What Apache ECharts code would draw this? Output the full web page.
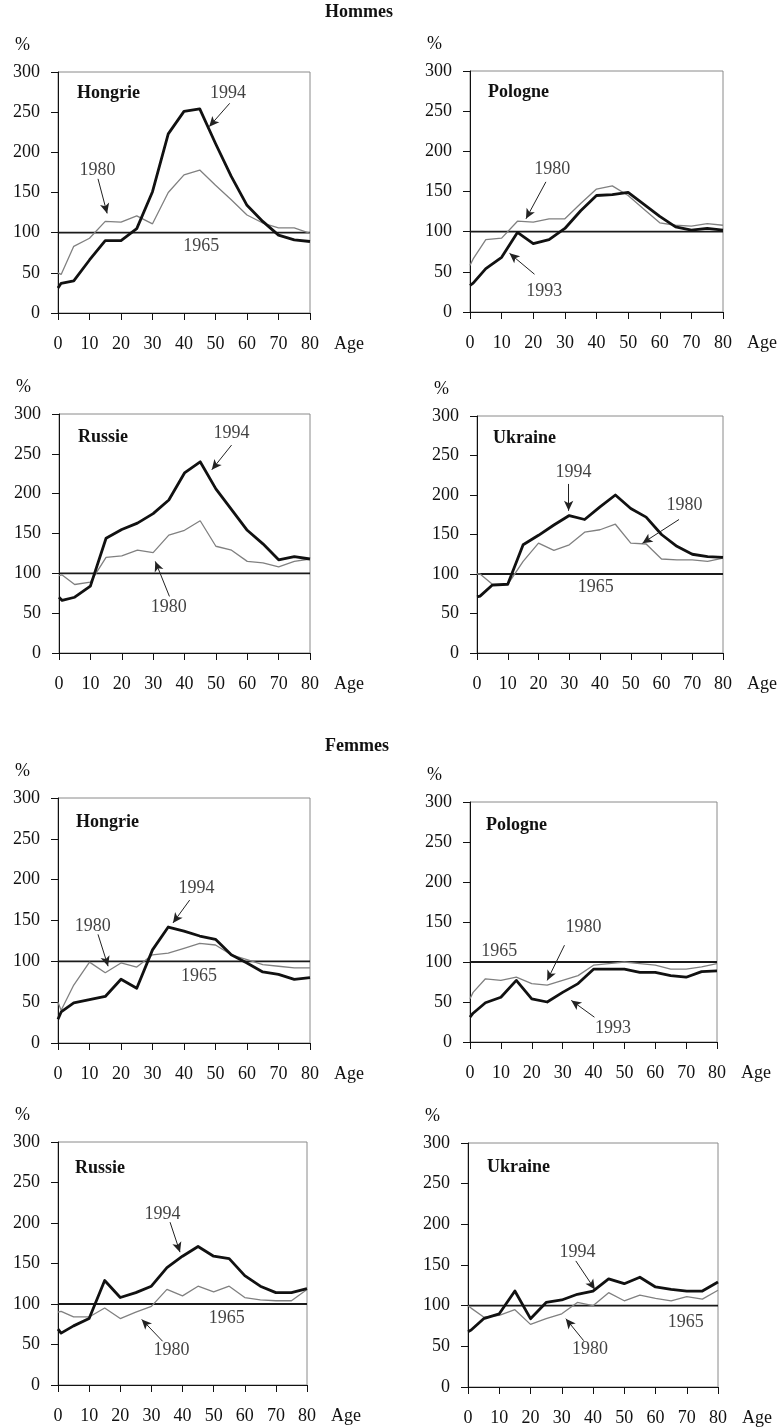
<!DOCTYPE html>
<html>
<head>
<meta charset="utf-8">
<script src="https://cdn.jsdelivr.net/npm/echarts@6/dist/echarts.min.js"></script>
<style>
html,body{margin:0;padding:0;background:#fff;}
#chart{width:782px;height:1427px;}
</style>
</head>
<body>
<div id="chart"></div>
<script>
// ---- data ----
const ages = [0,1,5,10,15,20,25,30,35,40,45,50,55,60,65,70,75,80];
const ref1965Ages = [0,80];
const ref1965 = [100,100];
const xTicks = [0,10,20,30,40,50,60,70,80];
const yTicks = [0,50,100,150,200,250,300];

// Hommes
const huM1994 = [31,37,40,66,90,90,105,151,223,251,254,211,170,134,114,97,91,89];
const huM1980 = [50,48,83,93,114,113,121,111,150,172,178,159,141,122,112,106,106,99];
const plM1993 = [33,36,54,68,99,85,90,104,126,145,146,149,134,119,106,102,104,102];
const plM1980 = [58,66,90,92,113,112,116,116,135,153,157,145,128,111,108,107,110,108];
const ruM1994 = [70,66,70,84,144,155,163,175,192,226,240,206,180,154,137,117,121,118];
const ruM1980 = [97,98,86,89,120,122,129,126,148,154,166,134,129,115,113,108,115,118];
const uaM1994 = [71,72,86,87,137,149,162,174,169,185,200,183,172,150,135,125,122,121];
const uaM1980 = [100,100,87,87,116,139,130,137,153,156,163,139,138,119,118,118,116,120];
// Femmes
const huF1994 = [29,38,49,53,57,78,67,114,142,137,131,127,108,98,87,84,78,80];
const huF1980 = [50,40,71,99,86,98,93,108,110,116,122,120,108,102,96,94,92,92];
const plF1993 = [31,36,49,56,77,54,50,62,73,91,91,91,87,87,83,81,88,89];
const plF1980 = [54,62,79,77,81,73,71,77,83,96,98,100,98,96,91,91,94,98];
const ruF1994 = [69,64,73,82,129,108,114,122,145,159,171,159,156,135,122,114,114,119];
const ruF1980 = [90,91,84,84,95,82,90,97,118,110,122,115,122,108,105,104,104,118];
const uaF1994 = [68,70,84,90,118,84,104,107,114,118,133,127,135,123,120,118,118,129];
const uaF1980 = [100,97,86,88,95,77,84,90,104,100,116,106,113,109,106,111,108,119];

// annotations (in data coordinates: age, %)
const annHuM = {labels:[['1994',54,273],['1980',12.5,178],['1965',45.5,83]], arrows:[[[54.5,261],[48,232]],[[12.7,167],[15.6,124]]]};
const annPlM = {labels:[['1980',26,178],['1993',23.5,26]], arrows:[[[24,162],[17.7,116]],[[20.4,47],[12.5,73]]]};
const annRuM = {labels:[['1994',55,276],['1980',35,57]], arrows:[[[55,261],[48.7,230]],[[35.2,71],[30.7,115]]]};
const annUaM = {labels:[['1994',31.4,229],['1980',67.5,187],['1965',38.6,83]], arrows:[[[29.8,214],[29.8,180]],[[65.7,169],[53.8,139]]]};
const annHuF = {labels:[['1994',44,190],['1980',11,143],['1965',44.8,82]], arrows:[[[41.8,175],[36.5,147]],[[12.7,133],[15.9,94]]]};
const annPlF = {labels:[['1965',9.5,113],['1980',36.8,144],['1993',46.3,17]], arrows:[[[30.6,121],[25,77]],[[40.3,31],[32.8,52]]]};
const annRuF = {labels:[['1994',33.6,211],['1980',36.5,43],['1965',54.2,82]], arrows:[[[36,201],[39.2,164]],[[33.6,54],[26.9,81]]]};
const annUaF = {labels:[['1994',35,166],['1980',39,46],['1965',69.7,80]], arrows:[[[34.5,155],[40.6,120]],[[37,57],[31.3,84]]]};

// ---- layout / styles ----
const FONT = 'Liberation Serif';
const FS = 18;
const panels = [
  {name:'Hongrie', rect:[58,72,252,241],  thick:huM1994, thin:huM1980, ann:annHuM, nameAt:[77,84]},
  {name:'Pologne', rect:[470,71,253,241], thick:plM1993, thin:plM1980, ann:annPlM, nameAt:[488,83]},
  {name:'Russie',  rect:[59,414,251,239], thick:ruM1994, thin:ruM1980, ann:annRuM, nameAt:[78,428]},
  {name:'Ukraine', rect:[477,416,246,237],thick:uaM1994, thin:uaM1980, ann:annUaM, nameAt:[493,429]},
  {name:'Hongrie', rect:[58,798,252,245], thick:huF1994, thin:huF1980, ann:annHuF, nameAt:[76,813]},
  {name:'Pologne', rect:[470,802,247,240],thick:plF1993, thin:plF1980, ann:annPlF, nameAt:[486,816]},
  {name:'Russie',  rect:[58,1142,249,243],thick:ruF1994, thin:ruF1980, ann:annRuF, nameAt:[75,1159]},
  {name:'Ukraine', rect:[468,1143,250,245],thick:uaF1994, thin:uaF1980, ann:annUaF, nameAt:[487,1158]}
];

const pair = (xs, ys) => xs.map((x,i)=>[x, ys[i]]);

const boldText = {fontFamily:FONT,fontSize:FS,fontWeight:'bold',color:'#111'};
const option = {
  animation:false,
  backgroundColor:'#fff',
  textStyle:{fontFamily:FONT},
  title:[
    {text:'Hommes', left:325, top:3, padding:0, textStyle:boldText},
    {text:'Femmes', left:325, top:737, padding:0, textStyle:boldText}
  ],
  grid:[], xAxis:[], yAxis:[], series:[]
};

panels.forEach((p,i)=>{
  const [l,t,w,h] = p.rect;
  option.grid.push({left:l, top:t, width:w, height:h, show:true, borderColor:'#8a8a8a', borderWidth:1, containLabel:false});
  option.title.push({text:p.name, left:p.nameAt[0], top:p.nameAt[1], padding:0, textStyle:boldText});
  option.xAxis.push({
    type:'value', gridIndex:i, min:xTicks[0], max:xTicks[xTicks.length-1], interval:10,
    name:'Age', nameLocation:'end', nameGap:24,
    nameTextStyle:{fontFamily:FONT,fontSize:FS,color:'#111',verticalAlign:'top',padding:[22,0,0,0]},
    axisLine:{show:true,onZero:false,lineStyle:{color:'#111',width:1}},
    axisTick:{show:true,inside:false,length:7,lineStyle:{color:'#111'}},
    axisLabel:{fontFamily:FONT,fontSize:FS,color:'#111',margin:22},
    splitLine:{show:false}
  });
  option.yAxis.push({
    type:'value', gridIndex:i, min:yTicks[0], max:yTicks[yTicks.length-1], interval:50,
    name:'%', nameLocation:'end', nameGap:18,
    nameTextStyle:{fontFamily:FONT,fontSize:FS,color:'#111',align:'right',padding:[0,28,0,0]},
    axisLine:{show:true,lineStyle:{color:'#111',width:1}},
    axisTick:{show:true,inside:false,length:7,lineStyle:{color:'#111'}},
    axisLabel:{fontFamily:FONT,fontSize:FS,color:'#111',margin:18},
    splitLine:{show:false}
  });
  option.series.push({
    type:'line', xAxisIndex:i, yAxisIndex:i, data:pair(ref1965Ages, ref1965),
    showSymbol:false, symbol:'none', lineStyle:{color:'#1a1a1a',width:1.8}, z:2
  });
  option.series.push({
    type:'line', xAxisIndex:i, yAxisIndex:i, data:pair(ages, p.thin),
    showSymbol:false, symbol:'none', lineStyle:{color:'#808080',width:1.3}, z:3
  });
  option.series.push({
    type:'line', xAxisIndex:i, yAxisIndex:i, data:pair(ages, p.thick),
    showSymbol:false, symbol:'none', lineStyle:{color:'#111',width:2.8,join:'round'}, z:4
  });
  option.series.push({
    type:'scatter', xAxisIndex:i, yAxisIndex:i, symbolSize:1,
    itemStyle:{color:'rgba(0,0,0,0)'}, silent:true, z:5,
    data:p.ann.labels.map(a=>({name:a[0], value:[a[1],a[2]]})),
    label:{show:true, position:'inside', formatter:'{b}', fontFamily:FONT, fontSize:FS, color:'#111', align:'center', verticalAlign:'middle'},
    markLine:{
      silent:true, animation:false, symbol:['none','arrow'], symbolSize:[7,10],
      lineStyle:{color:'#222',width:1,type:'solid'}, label:{show:false},
      data:p.ann.arrows.map(a=>[{coord:a[0]},{coord:a[1]}])
    }
  });
});

const chart = echarts.init(document.getElementById('chart'), null, {renderer:'canvas'});
chart.setOption(option);
</script>
</body>
</html>
